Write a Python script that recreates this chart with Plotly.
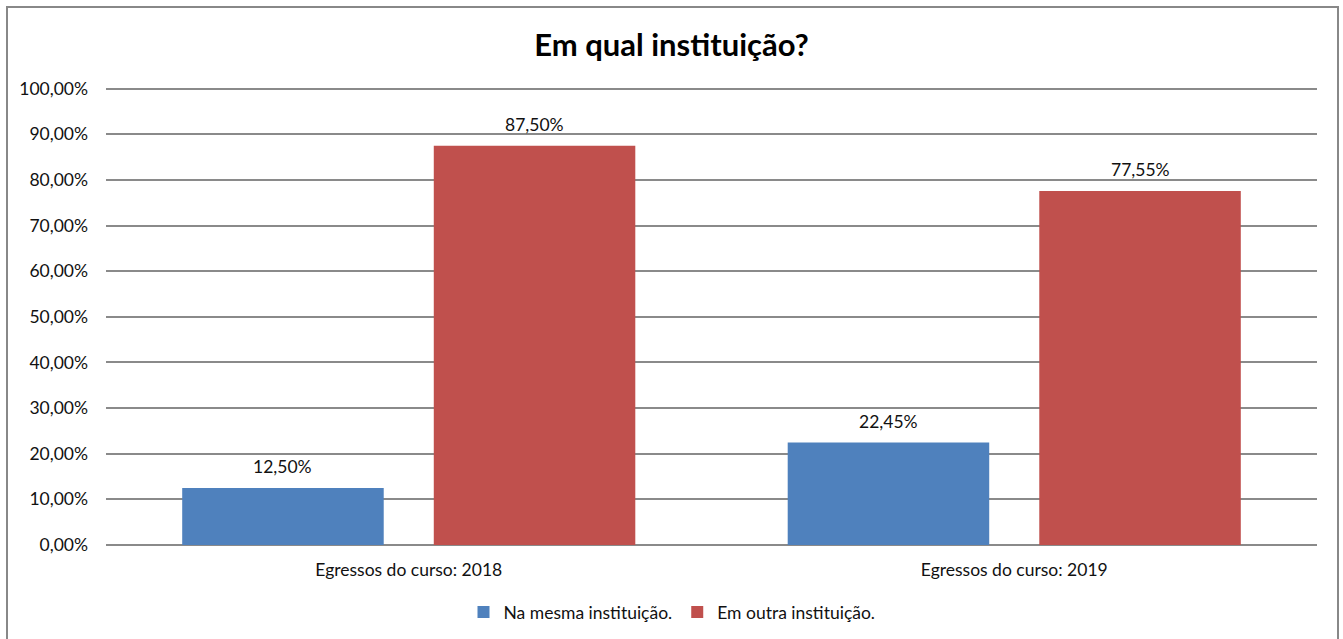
import plotly.graph_objects as go

categories = ["Egressos do curso: 2018", "Egressos do curso: 2019"]
series_names = ["Na mesma instituição.", "Em outra instituição."]
mesma = [0.125, 0.2245]
outra = [0.875, 0.7755]
colors = ["#4F81BD", "#C0504D"]
y_ticks = [i / 10 for i in range(11)]

FONT = "Lato, Open Sans, sans-serif"
TXT = "#111111"

W, H = 1343, 639
L, R, T, B = 106, 26, 85, 94
pw = W - L - R
ph = H - T - B

BARGAP = 0.169
GROUPGAP = 0.199
YMAX = 1.008

def px_x(p):
    return (p - L) / pw

def px_y(p):
    return (H - B - p) / ph

fig = go.Figure()
for name, vals, col in zip(series_names, [mesma, outra], colors):
    fig.add_trace(go.Bar(
        x=categories, y=vals, name=name,
        marker=dict(color=col, line=dict(width=0)),
    ))

# data labels placed via the axes (category + value), shifted to each bar slot
cat_px = pw / len(categories)
slot_px = cat_px * (1 - BARGAP) / 2
annotations = []
for i, (vals, name) in enumerate(zip([mesma, outra], series_names)):
    shift = (i - 0.5) * slot_px
    for c, v in zip(categories, vals):
        annotations.append(dict(
            x=c, y=v, xref="x", yref="y", xshift=shift, yshift=9,
            text=f"{v * 100:.2f}%".replace(".", ","),
            showarrow=False, xanchor="center", yanchor="bottom",
            font=dict(size=17.5, color=TXT, family=FONT),
        ))

fig.update_layout(
    width=W, height=H,
    margin=dict(l=L, r=R, t=T, b=B, autoexpand=False),
    separators=",.",
    paper_bgcolor="white", plot_bgcolor="white",
    font=dict(family=FONT, size=17.5, color=TXT),
    title=dict(text="<b>Em qual instituição?</b>", x=0.5, xref="container",
               xanchor="center", y=1 - 45 / H, yanchor="middle",
               font=dict(size=31, color="#000000", family=FONT)),
    barmode="group", bargap=BARGAP, bargroupgap=GROUPGAP,
    showlegend=True,
    legend=dict(orientation="h", x=px_x(672), xanchor="center",
                y=px_y(612), yanchor="middle",
                font=dict(size=17.5, color=TXT, family=FONT),
                itemwidth=30, tracegroupgap=0),
    xaxis=dict(showgrid=False, showline=False, ticks="",
               ticklabelstandoff=12,
               tickfont=dict(size=17.5, color=TXT)),
    yaxis=dict(range=[0, YMAX], tickvals=y_ticks, tickformat=".2%",
               showgrid=True, gridcolor="#8A8A8A", gridwidth=2,
               zeroline=True, zerolinecolor="#8A8A8A", zerolinewidth=2,
               showline=False, ticks="", ticklen=0,
               ticklabelstandoff=17,
               tickfont=dict(size=17.5, color=TXT)),
    annotations=annotations,
    shapes=[dict(type="rect", xref="paper", yref="paper",
                 x0=px_x(7), x1=px_x(1338), y0=px_y(700), y1=px_y(7),
                 line=dict(color="#888888", width=2), fillcolor="rgba(0,0,0,0)",
                 layer="above")],
)

fig.write_html("out.html",
               config={"displayModeBar": False},
               post_script="document.body.style.margin='0px';document.body.style.overflow='hidden';")
